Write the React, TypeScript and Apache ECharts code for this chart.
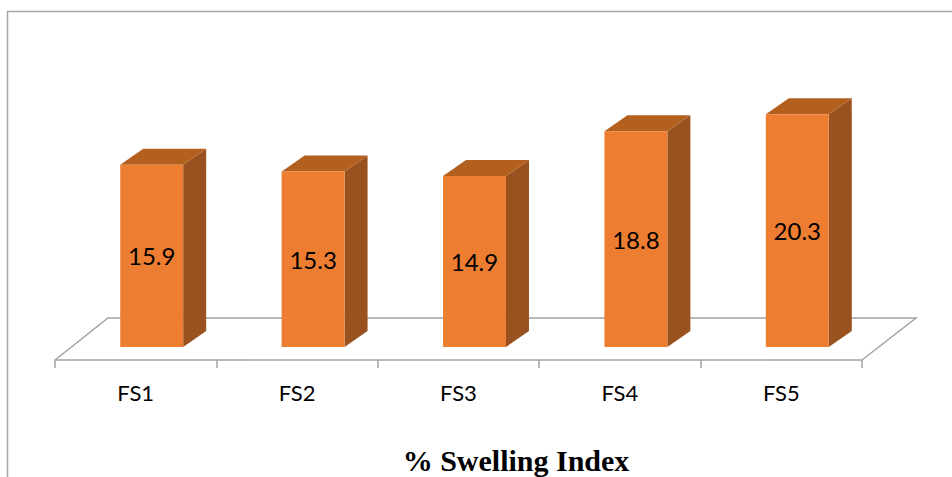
import React, { useEffect, useRef } from "react";
import * as echarts from "echarts";

// Formulation codes and their measured swelling index (%)
const categories = ["FS1", "FS2", "FS3", "FS4", "FS5"];
const swellingIndex = [15.9, 15.3, 14.9, 18.8, 20.3];
const chartTitle = "% Swelling Index";

// 3D look: bar sits back on the floor, with a visible top and right side
const FRONT = "#ED7D31";
const TOP = "#B3601F";
const SIDE = "#9A5120";
const FLOOR_LINE = "#a3a3a3";
const FLOOR_DX = 53; // floor depth, horizontal
const FLOOR_DY = 42; // floor depth, vertical
const BAR_SHIFT_X = 16; // bar base set back from the front edge
const BAR_SHIFT_Y = 13;
const DEPTH_X = 23; // bar depth
const DEPTH_Y = 16;
const BAR_RATIO = 0.39;

export default function App() {
  const ref = useRef<HTMLDivElement>(null);

  useEffect(() => {
    document.body.style.margin = "0";
    const chart = echarts.init(ref.current!, null, { renderer: "svg" });

    const barItem = (params: any, api: any) => {
      const idx = api.value(0);
      const val = api.value(1);
      const base = api.coord([idx, 0]);
      const top = api.coord([idx, val]);
      const w = api.size([1, 0])[0] * BAR_RATIO;
      const cx = base[0] + BAR_SHIFT_X;
      const x0 = cx - w / 2;
      const x1 = cx + w / 2;
      const yb = base[1] - BAR_SHIFT_Y;
      const yt = top[1] - BAR_SHIFT_Y;
      return {
        type: "group",
        children: [
          {
            type: "polygon",
            shape: {
              points: [
                [x1, yb],
                [x1 + DEPTH_X, yb - DEPTH_Y],
                [x1 + DEPTH_X, yt - DEPTH_Y],
                [x1, yt],
              ],
            },
            style: { fill: SIDE },
          },
          {
            type: "polygon",
            shape: {
              points: [
                [x0, yt],
                [x0 + DEPTH_X, yt - DEPTH_Y],
                [x1 + DEPTH_X, yt - DEPTH_Y],
                [x1, yt],
              ],
            },
            style: { fill: TOP },
          },
          {
            type: "rect",
            shape: { x: x0, y: yt, width: w, height: yb - yt },
            style: { fill: FRONT },
          },
          {
            type: "text",
            x: cx,
            y: (yt + yb) / 2,
            style: {
              text: val.toFixed(1),
              fill: "#000",
              fontSize: 24,
              fontFamily: "Lato",
              align: "center",
              verticalAlign: "middle",
            },
          },
        ],
      };
    };

    const floorItem = (params: any) => {
      const cs = params.coordSys;
      const yf = cs.y + cs.height;
      return {
        type: "polyline",
        shape: {
          points: [
            [cs.x, yf],
            [cs.x + FLOOR_DX, yf - FLOOR_DY],
            [cs.x + cs.width + FLOOR_DX + 1, yf - FLOOR_DY],
            [cs.x + cs.width, yf],
          ],
        },
        style: { stroke: FLOOR_LINE, lineWidth: 1.5, fill: "none" },
      };
    };

    chart.setOption({
      animation: false,
      grid: { left: 55, right: 90, top: 73.25, bottom: 117 },
      xAxis: {
        type: "category",
        data: categories,
        axisLine: { lineStyle: { color: FLOOR_LINE, width: 1.5 } },
        axisTick: { show: true, length: 8, lineStyle: { color: FLOOR_LINE, width: 1.5 } },
        axisLabel: { color: "#000", fontSize: 22, fontFamily: "Lato", margin: 21 },
      },
      yAxis: { type: "value", min: 0, max: 25, show: false },
      series: [
        {
          type: "custom",
          name: "floor",
          data: [[0]],
          renderItem: floorItem,
          z: 1,
        },
        {
          type: "custom",
          name: chartTitle,
          data: swellingIndex.map((v, i) => [i, v]),
          encode: { x: 0, y: 1 },
          renderItem: barItem,
          z: 3,
        },
      ],
      graphic: [
        {
          type: "rect",
          shape: { x: 7.5, y: 11.5, width: 1000, height: 500 },
          style: { fill: "none", stroke: "#a6a6a6", lineWidth: 1.5 },
          z: 0,
        },
        {
          type: "text",
          x: 516,
          y: 460,
          style: {
            text: chartTitle,
            fontFamily: "Liberation Serif",
            fontWeight: "bold",
            fontSize: 30,
            fill: "#000",
            align: "center",
            verticalAlign: "middle",
          },
        },
      ],
    });

    return () => chart.dispose();
  }, []);

  return <div ref={ref} style={{ width: 952, height: 477 }} />;
}
